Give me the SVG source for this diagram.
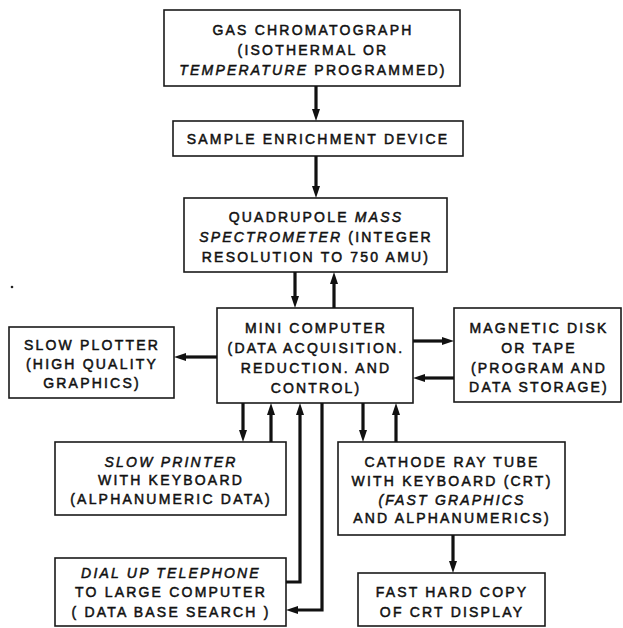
<svg xmlns="http://www.w3.org/2000/svg" width="623" height="628" viewBox="0 0 623 628">
<style>
  rect.box { fill: #fff; stroke: #1a1a1a; stroke-width: 1.6; }
  text { font-family: "Liberation Sans", Arial, sans-serif; font-size: 14px; letter-spacing: 2.2px; fill: #111; stroke: #111; stroke-width: 0.5; text-anchor: middle; }
  text .it { font-style: italic; }
  .conn path { fill: none; stroke: #111; stroke-width: 3.2; marker-end: url(#ah); }
</style>
<defs>
  <marker id="ah" viewBox="0 0 12 8" markerWidth="12" markerHeight="8" refX="1" refY="4" orient="auto" markerUnits="userSpaceOnUse">
    <path d="M0,0 L12,4 L0,8 z" fill="#111"/>
  </marker>
</defs>
<rect x="0" y="0" width="623" height="628" fill="#fff"/>
<circle cx="12" cy="287" r="1.3" fill="#222"/>

<g id="gas-chromatograph">
  <rect class="box" x="164" y="10" width="296" height="76"/>
  <text x="313" y="35">GAS CHROMATOGRAPH</text>
  <text x="313" y="55">(ISOTHERMAL OR</text>
  <text x="313" y="75"><tspan class="it">TEMPERATURE</tspan> PROGRAMMED)</text>
</g>
<g id="sample-enrichment">
  <rect class="box" x="173" y="121" width="290" height="35"/>
  <text x="318" y="144">SAMPLE ENRICHMENT DEVICE</text>
</g>
<g id="quadrupole">
  <rect class="box" x="184" y="198" width="263" height="74"/>
  <text x="316" y="222">QUADRUPOLE <tspan class="it">MASS</tspan></text>
  <text x="316" y="242"><tspan class="it">SPECTROMETER</tspan> (INTEGER</text>
  <text x="316" y="262">RESOLUTION TO 750 AMU)</text>
</g>
<g id="mini-computer">
  <rect class="box" x="217" y="308" width="196" height="95"/>
  <text x="316" y="333">MINI COMPUTER</text>
  <text x="316" y="353">(DATA ACQUISITION.</text>
  <text x="316" y="373">REDUCTION. AND</text>
  <text x="316" y="393">CONTROL)</text>
</g>
<g id="slow-plotter">
  <rect class="box" x="9" y="327" width="165" height="71"/>
  <text x="92" y="350">SLOW PLOTTER</text>
  <text x="92" y="369">(HIGH QUALITY</text>
  <text x="92" y="388">GRAPHICS)</text>
</g>
<g id="magnetic-disk">
  <rect class="box" x="454" y="308" width="167" height="94"/>
  <text x="539" y="333">MAGNETIC DISK</text>
  <text x="539" y="353">OR TAPE</text>
  <text x="539" y="373">(PROGRAM AND</text>
  <text x="539" y="392">DATA STORAGE)</text>
</g>
<g id="slow-printer">
  <rect class="box" x="55" y="442" width="231" height="73"/>
  <text x="171" y="467"><tspan class="it">SLOW PRINTER</tspan></text>
  <text x="171" y="485">WITH KEYBOARD</text>
  <text x="171" y="504">(ALPHANUMERIC DATA)</text>
</g>
<g id="telephone">
  <rect class="box" x="55" y="558" width="231" height="68"/>
  <text x="171" y="578" font-style="italic">DIAL UP TELEPHONE</text>
  <text x="171" y="597">TO LARGE COMPUTER</text>
  <text x="171" y="617">( DATA BASE SEARCH )</text>
</g>
<g id="crt">
  <rect class="box" x="338" y="442" width="227" height="93"/>
  <text x="452" y="467">CATHODE RAY TUBE</text>
  <text x="452" y="486">WITH KEYBOARD (CRT)</text>
  <text x="452" y="505" font-style="italic">(FAST GRAPHICS</text>
  <text x="452" y="523">AND ALPHANUMERICS)</text>
</g>
<g id="hard-copy">
  <rect class="box" x="358" y="573" width="187" height="53"/>
  <text x="452" y="597">FAST HARD COPY</text>
  <text x="452" y="617">OF CRT DISPLAY</text>
</g>

<g id="connectors" class="conn">
  <path d="M316,86 V110"/>
  <path d="M316,156 V187"/>
  <path d="M295,272 V297"/>
  <path d="M334,308 V283"/>
  <path d="M217,357 H185"/>
  <path d="M413,341 H443"/>
  <path d="M454,378 H424"/>
  <path d="M243,403 V431"/>
  <path d="M271,442 V414"/>
  <path d="M286,582 H300 V414"/>
  <path d="M322,403 V610 H297"/>
  <path d="M363,403 V431"/>
  <path d="M396,442 V414"/>
  <path d="M453,535 V562"/>
</g>
</svg>
